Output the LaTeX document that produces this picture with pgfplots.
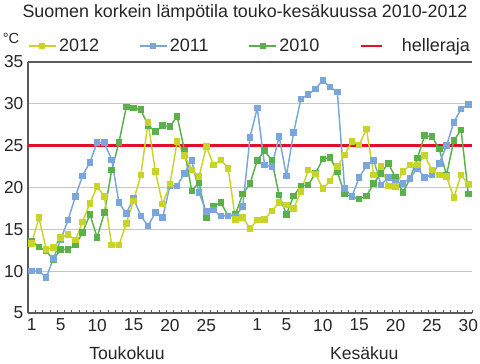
\documentclass[border=0pt]{standalone}
\usepackage{fontspec}
\setmainfont{Liberation Sans}
\usepackage{pgfplots}
\usepackage{pgfplotstable}
\pgfplotsset{compat=1.18}
\definecolor{c12}{RGB}{200,212,40}
\definecolor{c11}{RGB}{122,166,220}
\definecolor{c10}{RGB}{90,176,75}
\definecolor{cred}{RGB}{225,16,40}
\definecolor{axgray}{RGB}{90,90,90}
\pgfplotsset{redlegend/.style={legend image code/.code={\draw[cred,line width=1.8pt] (0pt,0pt) -- (16pt,0pt);}}}
\pgfplotstableread{
d y2012 y2011 y2010
0 13.3 10.0 13.6
1 16.4 10.0 12.9
2 12.6 9.25 12.4
3 12.8 11.5 11.4
4 14.0 13.8 12.6
5 14.4 16.1 12.6
6 13.7 18.9 13.1
7 15.9 21.4 14.6
8 18.1 23.0 16.8
9 20.1 25.4 14.05
10 18.9 25.35 17.0
11 13.1 23.3 22.1
12 13.1 18.2 25.4
13 15.7 16.9 29.6
14 18.4 18.7 29.5
15 21.5 16.6 29.3
16 27.8 15.4 27.4
17 21.9 17.0 26.7
18 18.0 16.4 27.4
19 20.4 20.2 27.3
20 25.5 20.2 28.5
21 23.85 21.7 24.4
22 22.1 23.25 19.6
23 21.3 19.4 20.6
24 24.9 17.1 16.4
25 22.7 17.3 17.8
26 23.3 16.6 18.2
27 22.3 16.6 16.6
28 16.2 16.6 16.8
29 16.4 17.7 19.2
30 15.1 26.0 20.45
31 16.1 29.5 23.25
32 16.2 22.7 24.4
33 17.2 22.5 23.25
34 18.2 26.1 19.1
35 17.9 21.4 16.8
36 17.5 26.6 19.0
37 19.5 30.6 20.2
38 22.1 31.1 20.3
39 21.6 31.8 21.7
40 19.9 32.8 23.4
41 20.75 32.0 23.6
42 22.5 31.4 21.9
43 23.9 19.9 19.2
44 25.5 18.9 18.9
45 25.1 21.2 18.6
46 27.0 22.6 19.0
47 21.5 23.25 20.5
48 22.5 20.3 21.7
49 20.2 21.2 22.9
50 20.1 20.6 21.2
51 21.9 20.5 19.4
52 22.7 21.1 21.1
53 22.7 22.3 23.5
54 23.8 21.2 26.2
55 22.1 21.5 26.1
56 21.5 22.9 24.6
57 21.3 25.0 21.5
58 18.8 27.8 25.6
59 21.5 29.4 26.9
60 20.4 29.9 19.2
}\datatable
\begin{document}
\begin{tikzpicture}
\path[use as bounding box] (-21pt,-38.25pt) rectangle (339pt,234.75pt);
\begin{axis}[
  width=333pt, height=188.25pt, scale only axis,
  at={(0,0)}, anchor=south west,
  xmin=-0.5, xmax=60.5, ymin=5, ymax=35,
  ytick={5,10,...,35},
  xtick={0,4,9,14,19,24,31,35,40,45,50,55,60},
  xticklabels={1,5,10,15,20,25,1,5,10,15,20,25,30},
  minor xtick={-0.5,0.5,...,60.5},
  axis x line*=bottom, axis y line*=left,
  axis line style={axgray, line width=0.8pt},
  ymajorgrids, grid style={gray!45, line width=0.6pt},
  major tick length=0pt, minor tick length=2.4pt, tick align=inside,
  minor tick style={axgray, line width=0.5pt},
  /pgf/number format/assume math mode=true,
  tick label style={font=\fontsize{13}{15}\selectfont, text=black!85},
  xticklabel style={yshift=-1pt},
  clip=false,
  legend columns=4,
  legend style={at={(axis description cs:0,1.064)}, xshift=-3pt, anchor=west, draw=none, fill=none,
    font=\fontsize{13.5}{15}\selectfont, text=black!85,
    /tikz/every even column/.append style={column sep=28pt},
    /tikz/column 6/.append style={column sep=18pt}},
  legend image code/.code={\draw[mark repeat=2,mark phase=2,#1] plot coordinates {(0pt,0pt) (10pt,0pt) (20pt,0pt)};},
]
\addplot[cred, line width=1.8pt, forget plot] coordinates {(-0.5,25) (60.5,25)};
\addplot[c10, line width=1.1pt, mark=square*, mark size=1.9pt, mark options={solid}, forget plot] table[x=d, y=y2010] {\datatable};
\addplot[c11, line width=1.1pt, mark=square*, mark size=1.9pt, mark options={solid}, forget plot] table[x=d, y=y2011] {\datatable};
\addplot[c12, line width=1.1pt, mark=square*, mark size=1.9pt, mark options={solid}, forget plot] table[x=d, y=y2012] {\datatable};
\addlegendimage{c12, line width=1.1pt, mark=square*, mark size=1.6pt}
\addlegendimage{c11, line width=1.1pt, mark=square*, mark size=1.6pt}
\addlegendimage{c10, line width=1.1pt, mark=square*, mark size=1.6pt}
\addlegendimage{redlegend}
\legend{2012,2011,2010,\hspace{12pt}helleraja}
\draw[axgray, line width=0.8pt] (axis description cs:0,1) -- (axis description cs:1,1);
\node[font=\fontsize{13.4}{15}\selectfont, text=black!85] at ([xshift=-3.75pt,yshift=37.1pt]axis description cs:0.5,1) {Suomen korkein lämpötila touko-kesäkuussa 2010-2012};
\node[font=\fontsize{11}{13}\selectfont, text=black!85] at ([xshift=-12.75pt,yshift=17.6pt]axis description cs:0,1) {°C};
\node[font=\fontsize{13.2}{15}\selectfont, text=black!85] at ([yshift=-30pt]axis cs:13.1,5) {Toukokuu};
\node[font=\fontsize{13.2}{15}\selectfont, text=black!85] at ([yshift=-30pt]axis cs:45.7,5) {Kesäkuu};
\end{axis}
\end{tikzpicture}
\end{document}
